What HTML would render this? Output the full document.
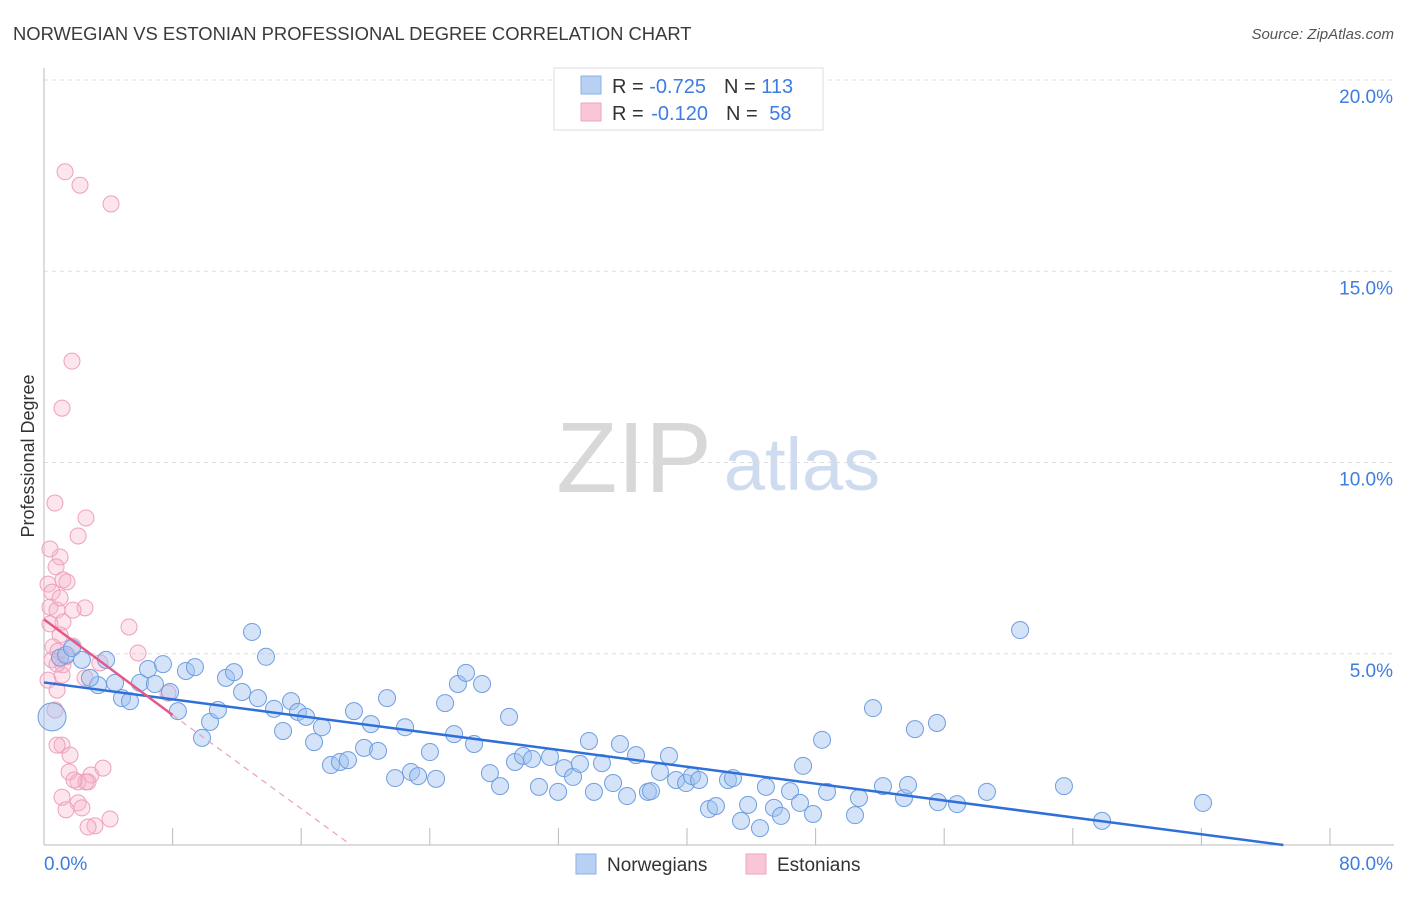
<!DOCTYPE html>
<html><head><meta charset="utf-8">
<style>
body{margin:0;background:#fff;font-family:"Liberation Sans",sans-serif;}
svg text{font-family:"Liberation Sans",sans-serif;}
</style></head>
<body>
<svg id="chart" width="1406" height="892" xmlns="http://www.w3.org/2000/svg">
<text x="13" y="40" font-size="18.4" fill="#3a3a3a">NORWEGIAN VS ESTONIAN PROFESSIONAL DEGREE CORRELATION CHART</text>
<text x="1394" y="39" font-size="15" fill="#555" text-anchor="end" font-style="italic">Source: ZipAtlas.com</text>
<g>
<text x="634" y="492" font-size="100" fill="#d8d8d8" text-anchor="middle" font-family="Liberation Serif,serif">ZIP</text>
<text x="802" y="490" font-size="74" fill="#cfdcf0" text-anchor="middle">atlas</text>
</g>
<g id="grid"></g>
<g id="axes"></g>
<g id="pts"></g>
<g id="trend"></g>
<g>
<rect x="554" y="68" width="269" height="62" fill="#fff" stroke="#ddd"/>
<rect x="581" y="76" width="20" height="18" fill="#b8d0f4" stroke="#8ab0e6"/>
<rect x="581" y="103" width="20" height="18" fill="#f8c6d6" stroke="#eea6bf"/>
<text x="612" y="93" font-size="20" fill="#333">R = <tspan fill="#3d7de0">-0.725</tspan><tspan dx="18">N = </tspan><tspan fill="#3d7de0">113</tspan></text>
<text x="612" y="120" font-size="20" fill="#333">R = <tspan dx="2" fill="#3d7de0">-0.120</tspan><tspan dx="18">N = </tspan><tspan dx="6" fill="#3d7de0">58</tspan></text>
</g>
<text transform="translate(34,456) rotate(-90)" font-size="18" fill="#333" text-anchor="middle">Professional Degree</text>
<g>
<rect x="576" y="854" width="20" height="20" fill="#b8d0f4" stroke="#8ab0e6"/>
<text x="607" y="871" font-size="19" fill="#333">Norwegians</text>
<rect x="746" y="854" width="20" height="20" fill="#f8c6d6" stroke="#eea6bf"/>
<text x="777" y="871" font-size="19" fill="#333">Estonians</text>
</g>
</svg>
<script>
const yTicks=[5,10,15,20];
const yTickLabels=["5.0%","10.0%","15.0%","20.0%"];
const xTicks=[0,8,16,24,32,40,48,56,64,72,80];
const norX=[0.5,1.0,1.37,1.74,2.36,3.36,3.86,2.86,4.42,4.85,5.35,5.97,6.47,6.9,7.4,7.84,8.33,8.83,9.39,9.83,10.33,10.82,11.32,11.82,12.32,12.94,13.31,13.81,14.31,14.87,15.37,15.8,16.3,16.8,17.29,17.85,18.41,18.91,19.28,19.91,20.34,20.78,21.34,21.84,22.46,22.83,23.27,24.01,24.39,24.95,25.51,25.75,26.25,26.75,27.25,27.74,28.37,28.93,29.3,29.8,30.36,30.79,31.48,31.98,32.35,32.91,33.34,33.9,34.21,34.71,35.4,35.83,36.27,36.83,37.57,37.76,38.32,38.88,39.32,39.94,40.31,40.75,41.37,41.8,42.55,42.86,43.36,43.8,44.54,44.91,45.41,45.85,46.41,47.03,47.22,47.84,48.4,48.71,50.45,50.7,51.57,52.19,53.5,54.18,53.75,55.55,55.61,56.8,58.66,60.72,63.45,65.82,72.1];
const norY=[3.35,4.9,4.97,5.15,4.84,4.18,4.84,4.37,4.24,3.84,3.76,4.24,4.6,4.21,4.73,4.0,3.5,4.55,4.65,2.8,3.22,3.53,4.37,4.52,4.0,5.57,3.84,4.92,3.56,2.98,3.76,3.48,3.35,2.69,3.08,2.09,2.17,2.22,3.5,2.54,3.16,2.46,3.84,1.75,3.08,1.91,1.8,2.43,1.73,3.71,2.9,4.21,4.5,2.64,4.21,1.88,1.54,3.35,2.17,2.33,2.25,1.52,2.3,1.39,2.01,1.78,2.12,2.72,1.39,2.14,1.62,2.64,1.28,2.35,1.39,1.41,1.91,2.33,1.7,1.62,1.8,1.7,0.94,1.02,1.7,1.75,0.63,1.05,0.44,1.52,0.97,0.76,1.41,1.1,2.07,0.81,2.75,1.39,0.78,1.23,3.58,1.54,1.23,3.03,1.57,3.19,1.12,1.07,1.39,5.62,1.54,0.63,1.1];
const estX=[1.31,2.24,4.17,1.74,1.12,0.68,2.61,2.12,0.37,1.0,0.75,0.25,1.18,1.43,0.5,0.37,2.55,0.81,1.18,1.8,5.29,1.0,1.8,0.56,0.87,5.85,3.48,0.5,1.18,0.25,2.55,0.81,7.71,0.68,1.12,0.81,1.62,1.56,2.92,3.67,2.12,2.74,1.12,2.12,1.37,2.36,3.17,2.74,4.11,2.61,1.87,1.12,1.37,0.81,0.37,1.0];
const estY=[17.6,17.25,16.76,12.65,11.42,8.94,8.55,8.08,7.74,7.53,7.27,6.82,6.93,6.88,6.61,6.22,6.2,6.14,5.83,6.14,5.7,5.49,5.2,5.18,5.07,5.02,4.76,4.84,4.71,4.31,4.37,4.05,3.97,3.53,2.61,2.61,2.35,1.91,1.83,2.01,1.65,1.65,1.25,1.1,0.92,0.97,0.5,0.47,0.68,1.65,1.7,4.44,4.92,4.73,5.78,6.46];
const norTrend=[0,4.25,77.1,0];
const estTrend=[0,5.9,8,3.4,19.1,0];

const NS="http://www.w3.org/2000/svg";
const X=v=>44+v*16.075, Y=v=>845-v*38.25;
function mk(tag,attrs,parent){const e=document.createElementNS(NS,tag);for(const k in attrs)e.setAttribute(k,attrs[k]);parent.appendChild(e);return e;}
const grid=document.getElementById('grid'),axes=document.getElementById('axes'),pts=document.getElementById('pts'),tr=document.getElementById('trend');
yTicks.forEach((t,i)=>{
 const l=mk('line',{x1:44,x2:1394,y1:Y(t),y2:Y(t),stroke:'#ddd','stroke-dasharray':'4,4'},grid);
 
 
 const tx=mk('text',{x:1393,y:Y(t)+23,'font-size':19,fill:'#3d7de0','text-anchor':'end'},axes);
 tx.textContent=yTickLabels[i];
 
 
});
const ax=mk('line',{x1:44,x2:44,y1:68,y2:845,stroke:'#bbb'},axes);


const bx=mk('line',{x1:44,x2:1394,y1:845,y2:845,stroke:'#bbb'},axes);


xTicks.forEach(t=>{const l=mk('line',{x1:X(t),x2:X(t),y1:828,y2:845,stroke:'#bbb'},axes);
 
 });
const x0=mk('text',{x:44,y:870,'font-size':19,fill:'#3d7de0'},axes);x0.textContent='0.0%';


const x1=mk('text',{x:1393,y:870,'font-size':19,fill:'#3d7de0','text-anchor':'end'},axes);x1.textContent='80.0%';


estX.forEach((v,i)=>{const c=mk('circle',{cx:X(v),cy:Y(estY[i]),r:8,fill:'rgba(246,180,204,0.35)',stroke:'#eea0bb','stroke-width':1},pts);
 
 });
norX.forEach((v,i)=>{const c=mk('circle',{cx:X(v),cy:Y(norY[i]),r:i==0?14:8.5,fill:'rgba(160,194,240,0.45)',stroke:'#6f9ee0','stroke-width':1},pts);
 
 });
const nl=mk('line',{x1:X(norTrend[0]),y1:Y(norTrend[1]),x2:X(norTrend[2]),y2:Y(norTrend[3]),stroke:'#2f6fd8','stroke-width':2.5},tr);


const el=mk('line',{x1:X(estTrend[0]),y1:Y(estTrend[1]),x2:X(estTrend[2]),y2:Y(estTrend[3]),stroke:'#e5598a','stroke-width':2.5},tr);


const ed=mk('line',{x1:X(estTrend[2]),y1:Y(estTrend[3]),x2:X(estTrend[4]),y2:Y(estTrend[5]),stroke:'#eaa0bb','stroke-width':1.2,'stroke-dasharray':'6,5'},tr);


</script>
</body></html>
